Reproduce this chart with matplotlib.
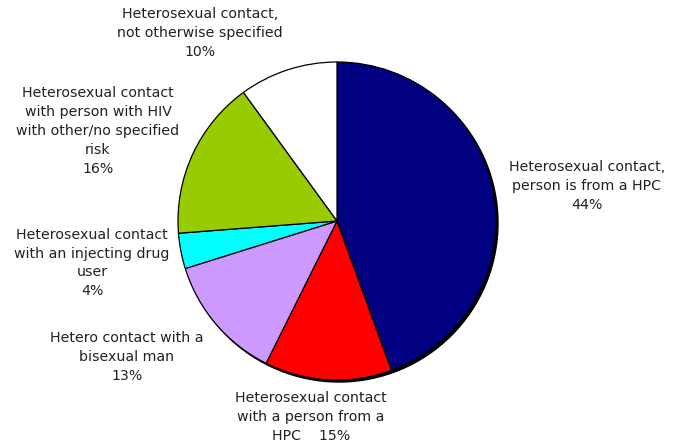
import matplotlib
matplotlib.use('Agg')
import matplotlib.pyplot as plt
from matplotlib.patches import Circle

# slice sizes (clockwise from 12 o'clock)
shares = [44.4, 12.9, 12.8, 3.6, 16.2, 10.0]
labels = ['Heterosexual contact,\nperson is from a HPC\n44%',
          'Heterosexual contact\nwith a person from a\nHPC    15%',
          'Hetero contact with a\nbisexual man\n13%',
          'Heterosexual contact\nwith an injecting drug\nuser\n4%',
          'Heterosexual contact\nwith person with HIV\nwith other/no specified\nrisk\n16%',
          'Heterosexual contact,\nnot otherwise specified\n10%']
colors = ['#000080', '#FF0000', '#CC99FF', '#00FFFF', '#99CC00', '#FFFFFF']

W, H = 675, 446
cx, cy, r = 337, H - 221, 159
# label centres in pixel coords (x from left, y from top)
label_pos = [(587, 186), (311, 417), (127, 357), (92, 263), (98, 131), (200, 33)]

fig = plt.figure(figsize=(W / 100, H / 100), dpi=100)
ax = fig.add_axes([0, 0, 1, 1])

# drop shadow
ax.add_patch(Circle((cx + 2, cy - 2), r, color='black', zorder=1))

ax.pie(shares, colors=colors, startangle=90, counterclock=False,
       center=(cx, cy), radius=r, frame=True,
       wedgeprops={'edgecolor': 'black', 'linewidth': 0.9, 'zorder': 2})
ax.set_xlim(0, W)
ax.set_ylim(0, H)
ax.set_aspect('equal')
ax.axis('off')

for lab, (x, y) in zip(labels, label_pos):
    ax.text(x, H - y, lab, ha='center', va='center', fontsize=10.2,
            color='#222222', linespacing=1.45, family='DejaVu Sans')

fig.savefig('out.png', dpi=100)
